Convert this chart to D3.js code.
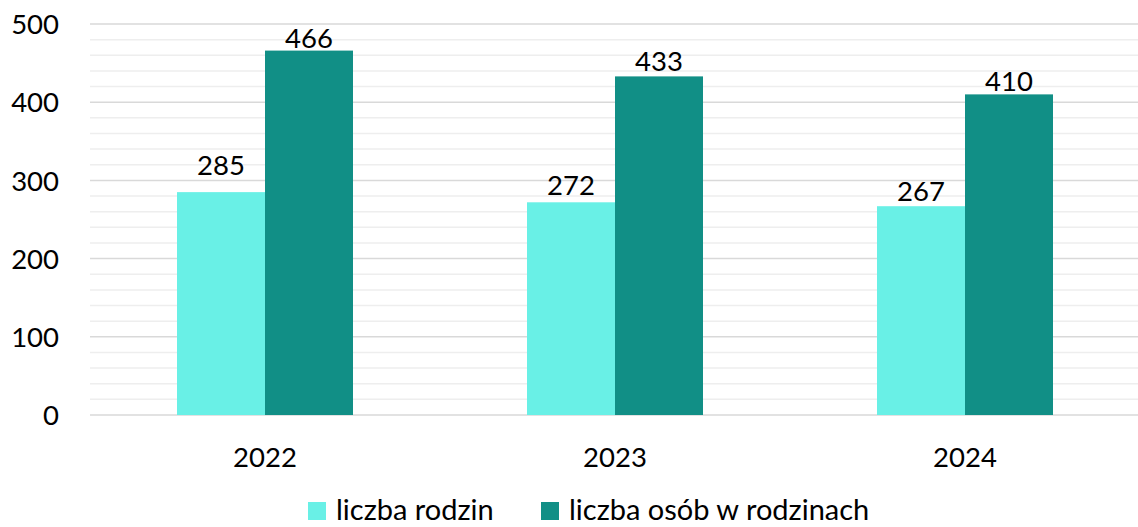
<!DOCTYPE html>
<html>
<head>
<meta charset="utf-8">
<script src="https://cdn.jsdelivr.net/npm/d3@7"></script>
<style>
  body { margin: 0; background: #fff; }
  text { font-family: Lato, "Open Sans", sans-serif; fill: #000; }
</style>
</head>
<body>
<svg width="1138" height="527"></svg>
<script>
const years = ["2022", "2023", "2024"];
const seriesNames = ["liczba rodzin", "liczba osób w rodzinach"];
const rodziny = [285, 272, 267];
const osoby = [466, 433, 410];
const yTicks = [0, 100, 200, 300, 400, 500];

const colors = ["#69F0E6", "#118F86"];

const svg = d3.select("svg");
const plotLeft = 90, plotRight = 1140, plotTop = 24, plotBottom = 415;
const fs = 27.5;

const x = d3.scaleBand().domain(years).range([plotLeft, plotRight]);
const inner = d3.scaleBand().domain([0, 1]).range([0, 176]);
const y = d3.scaleLinear().domain([0, 500]).range([plotBottom, plotTop]);

// minor grid
svg.append("g").selectAll("line")
    .data(d3.range(20, 500, 20).filter(v => v % 100 !== 0))
    .enter().append("line")
    .attr("x1", plotLeft).attr("x2", plotRight)
    .attr("y1", d => y(d)).attr("y2", d => y(d))
    .attr("stroke", "#eeeeee").attr("stroke-width", 1.5);

// major grid
svg.append("g").selectAll("line")
    .data(yTicks)
    .enter().append("line")
    .attr("x1", plotLeft).attr("x2", plotRight)
    .attr("y1", d => y(d)).attr("y2", d => y(d))
    .attr("stroke", "#d9d9d9").attr("stroke-width", 1.5);

const yAxis = svg.append("g")
    .attr("transform", `translate(${plotLeft - 31},0)`)
    .call(d3.axisLeft(y).tickValues(yTicks).tickSize(0).tickPadding(0));
yAxis.select(".domain").remove();
yAxis.selectAll("text").attr("font-size", fs).attr("dy", "0.35em")
    .style("font-family", "Lato, 'Open Sans', sans-serif");

const xAxis = svg.append("g")
    .attr("transform", `translate(0,${plotBottom})`)
    .call(d3.axisBottom(x).tickSize(0).tickPadding(32));
xAxis.select(".domain").remove();
xAxis.selectAll("text").attr("font-size", fs)
    .style("font-family", "Lato, 'Open Sans', sans-serif");

const series = [rodziny, osoby];
const labelLift = [[17, 7, 5], [3, 5, 3]];

series.forEach((vals, s) => {
    const g = svg.append("g");
    g.selectAll("rect")
        .data(vals)
        .enter().append("rect")
        .attr("x", (d, i) => x(years[i]) + x.bandwidth() / 2 - 88 + inner(s))
        .attr("width", inner.bandwidth())
        .attr("y", d => y(d))
        .attr("height", d => plotBottom - y(d))
        .attr("fill", colors[s]);
    g.selectAll("text")
        .data(vals)
        .enter().append("text")
        .attr("x", (d, i) => x(years[i]) + x.bandwidth() / 2 - 88 + inner(s) + inner.bandwidth() / 2)
        .attr("y", (d, i) => y(d) - labelLift[s][i])
        .attr("text-anchor", "middle")
        .attr("font-size", fs)
        .text(d => d);
});

// legend
const legendX = [308, 541];
const leg = svg.append("g").selectAll("g")
    .data(seriesNames)
    .enter().append("g")
    .attr("transform", (d, i) => `translate(${legendX[i]},502)`);
leg.append("rect").attr("width", 18).attr("height", 18).attr("fill", (d, i) => colors[i]);
leg.append("text").attr("x", 28).attr("y", 18).attr("font-size", 29).text(d => d);
</script>
</body>
</html>
